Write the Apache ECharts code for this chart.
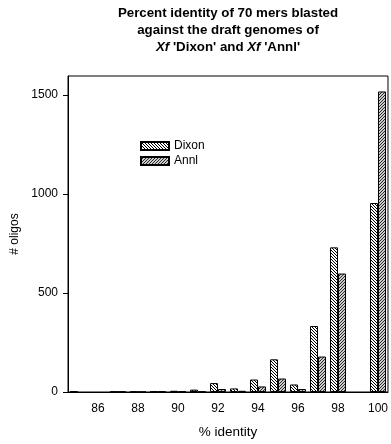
<!DOCTYPE html>
<html>
<head>
<meta charset="utf-8">
<script src="https://cdn.jsdelivr.net/npm/echarts@6/dist/echarts.min.js"></script>
<style>html,body{margin:0;padding:0;background:#fff}#c{width:391px;height:444px}</style>
</head>
<body>
<div id="c"></div>
<script>
var identity = [85, 86, 87, 88, 89, 90, 91, 92, 93, 94, 95, 96, 97, 98, 99, 100];
var dixon = [3, 0, 2, 2, 3, 6, 12, 45, 18, 63, 165, 38, 333, 730, 0, 954];
var annl = [0, 0, 2, 1, 3, 4, 2, 15, 6, 28, 68, 15, 179, 598, 0, 1517];
var yTicks = [0, 500, 1000, 1500];

function hatch(bg, fg, dir) {
  var c = document.createElement('canvas');
  c.width = 3; c.height = 3;
  var ctx = c.getContext('2d');
  ctx.fillStyle = bg; ctx.fillRect(0, 0, 3, 3);
  ctx.fillStyle = fg;
  for (var i = 0; i < 3; i++) {
    var x = dir > 0 ? i : 2 - i;
    ctx.fillRect(x, i, 1, 1);
  }
  return { image: c, repeat: 'repeat' };
}
function nz(arr) { return arr.map(function (v) { return v === 0 ? null : v; }); }

var chart = echarts.init(document.getElementById('c'));
var font = 'Liberation Sans, Arial, sans-serif';
chart.setOption({
  animation: false,
  title: {
    text: '{b|Percent identity of 70 mers blasted}\n{b|against the draft genomes of}\n{i|Xf}{b| \'Dixon\' and }{i|Xf}{b| \'Annl\'}',
    left: 228, top: 5, textAlign: 'center', padding: 0,
    textStyle: {
      fontFamily: font, fontSize: 13.3, fontWeight: 'bold', lineHeight: 17, color: '#000',
      rich: {
        b: { fontFamily: font, fontSize: 13.3, fontWeight: 'bold', lineHeight: 17, color: '#000' },
        i: { fontFamily: font, fontSize: 13.3, fontWeight: 'bold', fontStyle: 'italic', lineHeight: 17, color: '#000' }
      }
    }
  },
  legend: {
    orient: 'vertical', left: 140, top: 140, itemWidth: 28, itemHeight: 8, itemGap: 3, padding: 0,
    icon: 'rect',
    textStyle: { fontFamily: font, fontSize: 12, color: '#000' },
    data: ['Dixon', 'Annl']
  },
  grid: { left: 68, right: 3, top: 76, bottom: 47, show: true, borderColor: '#000', borderWidth: 1, containLabel: false },
  xAxis: {
    type: 'category', data: identity, boundaryGap: true,
    name: '% identity', nameLocation: 'middle', nameGap: 33,
    nameTextStyle: { fontFamily: font, fontSize: 13.5, color: '#000' },
    axisLine: { lineStyle: { color: '#000', width: 1 } },
    axisTick: { alignWithLabel: true, length: 5, lineStyle: { color: '#000' }, interval: function (i, v) { return Number(v) % 2 === 0; } },
    axisLabel: { fontFamily: font, fontSize: 12, color: '#000', margin: 11, interval: function (i, v) { return Number(v) % 2 === 0; } },
    splitLine: { show: false }
  },
  yAxis: {
    type: 'value', min: 0, max: 1595, interval: 500,
    name: '# oligos', nameLocation: 'middle', nameGap: 46, nameRotate: 90,
    nameTextStyle: { fontFamily: font, fontSize: 12, color: '#000' },
    axisLine: { show: true, lineStyle: { color: '#000', width: 1 } },
    axisTick: { show: true, length: 5, lineStyle: { color: '#000' } },
    axisLabel: { fontFamily: font, fontSize: 12, color: '#000', margin: 10, showMaxLabel: false,
      formatter: function (v) { return yTicks.indexOf(v) >= 0 ? String(v) : ''; } },
    splitLine: { show: false }
  },
  series: [
    { name: 'Dixon', type: 'bar', data: nz(dixon), barWidth: 8, barGap: '0%',
      itemStyle: { color: hatch('#ffffff', '#000000', 1), borderColor: '#000', borderWidth: 1 } },
    { name: 'Annl', type: 'bar', data: nz(annl), barWidth: 8, barGap: '0%',
      itemStyle: { color: hatch('#cccccc', '#2a2a2a', -1), borderColor: '#000', borderWidth: 1 } }
  ]
});
</script>
</body>
</html>
